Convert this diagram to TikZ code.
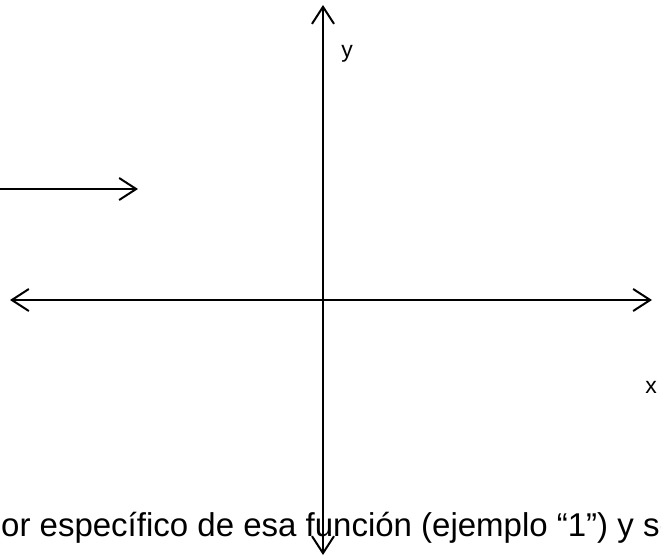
\documentclass[tikz,border=0pt]{standalone}
\usepackage{fontspec}
\setmainfont{Liberation Sans}
\usetikzlibrary{arrows.meta}
\begin{document}
\begin{tikzpicture}[x=1pt,y=-1pt,
  barb/.style={Straight Barb[length=17pt,width=22pt,line width=2pt]},
  axis/.style={line width=2pt,{Straight Barb[length=17pt,width=22pt,line width=2pt]}-{Straight Barb[length=17pt,width=22pt,line width=2pt]}},
  onearrow/.style={line width=2pt,-{Straight Barb[length=17pt,width=22pt,line width=2pt]}},
  lbl/.style={font=\fontsize{23}{27}\selectfont,inner sep=0pt},
  bodytext/.style={font=\fontsize{33}{40}\selectfont,inner sep=0pt,anchor=base west}]
\useasboundingbox (0,0) rectangle (661,557);
\begin{scope}
\clip (0,0) rectangle (661,557);
% coordinates
\coordinate (ytop) at (323,5);
\coordinate (ybot) at (323,555);
\coordinate (xleft) at (10,300);
\coordinate (xright) at (652,300);
\coordinate (astart) at (-5,189);
\coordinate (aend) at (138,189);
% axes
\draw[axis] (ybot) -- (ytop);
\draw[axis] (xleft) -- (xright);
\draw[onearrow] (astart) -- (aend);
% labels
\node[lbl] (ylab) at (347,54) {y};
\node[lbl] (xlab) at (651,387) {x};
% bottom text
\node[bodytext] (txt) at (1,536) {or específico de esa función (ejemplo “1”) y se};
\end{scope}
\end{tikzpicture}
\end{document}
